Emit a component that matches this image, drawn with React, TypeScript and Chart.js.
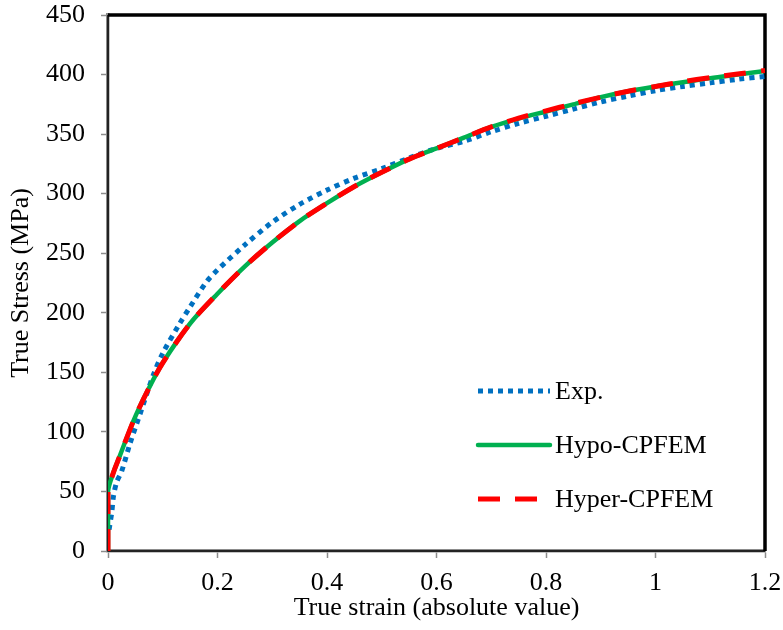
import React, { useEffect, useRef } from "react";
import { Chart, registerables } from "chart.js";

Chart.register(...registerables);

// ---- Data ----
const expStrain = [0.002, 0.007, 0.01, 0.016, 0.025, 0.04, 0.06, 0.083, 0.1, 0.131, 0.15, 0.18, 0.2, 0.25, 0.3, 0.35, 0.4, 0.45, 0.5, 0.55, 0.6, 0.65, 0.7, 0.75, 0.8, 0.85, 0.9, 0.95, 1.0, 1.05, 1.1, 1.15, 1.2];
const expStress = [18, 33, 46, 58, 67, 90, 117, 148, 166, 191, 205, 226, 236, 257, 276, 291, 303, 313, 321, 330, 338, 344, 352, 359, 365, 371, 377, 382, 386.5, 390, 393, 396, 398.5];

const modelStrain = [0, 0, 0.01, 0.02, 0.03, 0.05, 0.075, 0.1, 0.15, 0.2, 0.25, 0.3, 0.35, 0.4, 0.45, 0.5, 0.55, 0.6, 0.65, 0.7, 0.75, 0.8, 0.85, 0.9, 0.95, 1.0, 1.05, 1.1, 1.15, 1.2];
const hypoStress = [0, 50, 66, 78, 90, 113, 137, 158, 191, 216, 239, 259, 277, 292, 306, 318, 329, 338, 347, 356, 363, 369, 375, 381, 386, 390, 393.5, 397, 400, 403];
const hyperStress = [0, 50, 66, 78, 90, 113, 137, 158, 191, 216, 239, 259, 277, 292, 306, 318, 329, 338, 347, 356, 363.5, 369.5, 375.5, 381, 386, 390, 394, 397.5, 400.5, 403.5];

const seriesLabels = ["Exp.", "Hypo-CPFEM", "Hyper-CPFEM"];
const xTicks = [0, 0.2, 0.4, 0.6, 0.8, 1, 1.2];
const xTickLabels = ["0", "0.2", "0.4", "0.6", "0.8", "1", "1.2"];
const yTicks = [0, 50, 100, 150, 200, 250, 300, 350, 400, 450];
const yTickLabels = ["0", "50", "100", "150", "200", "250", "300", "350", "400", "450"];
const xTitle = "True strain (absolute value)";
const yTitle = "True Stress (MPa)";

const FONT_FAMILY = "'Times New Roman', 'Liberation Serif', Times, serif";

const toPoints = (xs: number[], ys: number[]) => xs.map((x, i) => ({ x, y: ys[i] }));

const framePlugin = {
  id: "frame",
  beforeDatasetsDraw(chart: any) {
    const { ctx, chartArea: a } = chart;
    ctx.save();
    ctx.strokeStyle = "#000";
    ctx.lineWidth = 3.5;
    ctx.beginPath();
    ctx.moveTo(a.left, a.top);
    ctx.lineTo(a.right, a.top);
    ctx.lineTo(a.right, a.bottom);
    ctx.stroke();
    ctx.lineWidth = 1.5;
    ctx.beginPath();
    ctx.moveTo(a.left, a.top);
    ctx.lineTo(a.left, a.bottom);
    ctx.lineTo(a.right, a.bottom);
    ctx.stroke();
    ctx.restore();
  },
};

// In-plot legend (lower right), built from the datasets' own styles
const legendPlugin = {
  id: "insideLegend",
  afterDraw(chart: any) {
    const { ctx, chartArea: a } = chart;
    const x0 = a.left + 370;
    const y0 = a.top + 376;
    const rowGap = 54;
    const sampleW = 72;
    ctx.save();
    chart.data.datasets.forEach((ds: any, i: number) => {
      const y = y0 + i * rowGap;
      ctx.beginPath();
      ctx.strokeStyle = ds.borderColor;
      ctx.lineWidth = ds.borderWidth;
      ctx.setLineDash(ds.borderDash || []);
      ctx.lineCap = ds.borderCapStyle || "butt";
      ctx.moveTo(x0, y);
      ctx.lineTo(x0 + sampleW, y);
      ctx.stroke();
      ctx.setLineDash([]);
      ctx.fillStyle = "#000";
      ctx.font = `26px ${FONT_FAMILY}`;
      ctx.textAlign = "left";
      ctx.textBaseline = "middle";
      ctx.fillText(ds.label, x0 + sampleW + 5, y + 1);
    });
    ctx.restore();
  },
};

export default function App() {
  const ref = useRef<HTMLCanvasElement | null>(null);

  useEffect(() => {
    if (!ref.current) return;
    const font = { family: FONT_FAMILY, size: 26 };
    const chart = new Chart(ref.current, {
      type: "line",
      data: {
        datasets: [
          {
            label: seriesLabels[0],
            data: toPoints(expStrain, expStress),
            borderColor: "#0070C0",
            backgroundColor: "#0070C0",
            borderWidth: 5,
            borderDash: [5, 5],
            borderCapStyle: "butt",
            pointRadius: 0,
            tension: 0.3,
            fill: false,
            order: 3,
          },
          {
            label: seriesLabels[1],
            data: toPoints(modelStrain, hypoStress),
            borderColor: "#00B050",
            backgroundColor: "#00B050",
            borderWidth: 4.5,
            borderCapStyle: "round",
            pointRadius: 0,
            tension: 0.3,
            fill: false,
            order: 2,
          },
          {
            label: seriesLabels[2],
            data: toPoints(modelStrain, hyperStress),
            borderColor: "#FF0000",
            backgroundColor: "#FF0000",
            borderWidth: 5,
            borderDash: [22, 15],
            borderCapStyle: "butt",
            pointRadius: 0,
            tension: 0.3,
            fill: false,
            order: 1,
          },
        ],
      },
      options: {
        animation: false,
        responsive: true,
        maintainAspectRatio: false,
        layout: { padding: { left: 0, top: 15, right: 18, bottom: 0 }, autoPadding: false },
        plugins: {
          tooltip: { enabled: false },
          legend: { display: false },
        },
        scales: {
          x: {
            type: "linear",
            min: 0,
            max: 1.2,
            afterBuildTicks: (s: any) => {
              s.ticks = xTicks.map((v) => ({ value: v }));
            },
            afterFit: (s: any) => {
              s.height = 79;
              s.paddingLeft = 0;
              s.paddingRight = 0;
            },
            ticks: {
              color: "#000",
              font,
              padding: 10,
              maxRotation: 0,
              autoSkip: false,
              callback: (_v: any, i: number) => xTickLabels[i],
            },
            grid: {
              drawOnChartArea: false,
              tickLength: 7,
              tickColor: "#8c8c8c",
              tickWidth: 1.5,
            },
            border: { color: "#8c8c8c", width: 3.5 },
            title: {
              display: true,
              text: xTitle,
              color: "#000",
              font,
              padding: { top: 0, bottom: 6 },
            },
          },
          y: {
            type: "linear",
            min: 0,
            max: 450,
            afterBuildTicks: (s: any) => {
              s.ticks = yTicks.map((v) => ({ value: v }));
            },
            afterFit: (s: any) => {
              s.width = 108;
              s.paddingTop = 0;
              s.paddingBottom = 0;
            },
            ticks: {
              color: "#000",
              font,
              padding: 16,
              autoSkip: false,
              callback: (_v: any, i: number) => yTickLabels[i],
            },
            grid: {
              drawOnChartArea: false,
              tickLength: 7,
              tickColor: "#8c8c8c",
              tickWidth: 1.5,
            },
            border: { color: "#8c8c8c", width: 3.5 },
            title: {
              display: true,
              text: yTitle,
              color: "#000",
              font,
              padding: { top: 6, bottom: 0 },
            },
          },
        },
      },
      plugins: [framePlugin, legendPlugin],
    });
    return () => chart.destroy();
  }, []);

  return (
    <div style={{ position: "fixed", left: 0, top: 0, width: 783, height: 630, background: "#fff" }}>
      <canvas ref={ref} />
    </div>
  );
}
